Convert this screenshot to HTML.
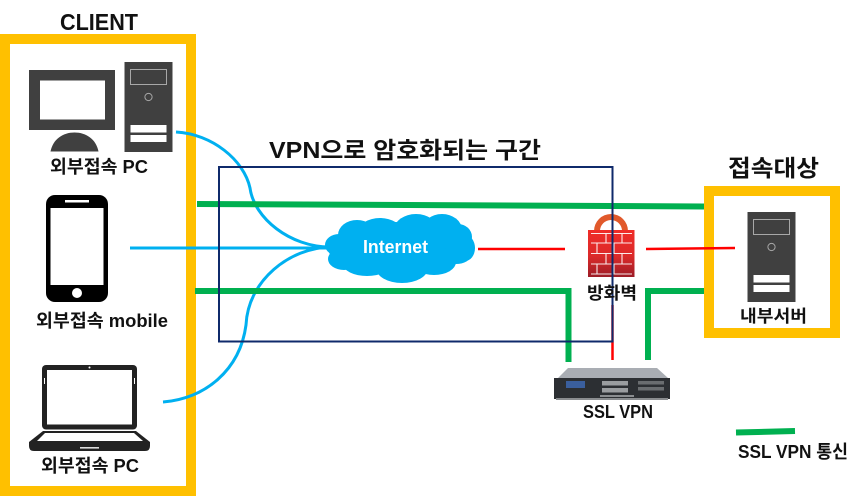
<!DOCTYPE html>
<html><head><meta charset="utf-8">
<style>
html,body{margin:0;padding:0;background:#fff;width:860px;height:496px;overflow:hidden}
svg{display:block}
text{font-family:"Liberation Sans","Noto Sans CJK KR",sans-serif;font-weight:700;fill:#111}
</style></head><body>
<svg width="860" height="496" viewBox="0 0 860 496" xmlns="http://www.w3.org/2000/svg">
<defs>
<g id="tower">
<rect x="0" y="0" width="48" height="90" fill="#404040"/>
<rect x="6" y="7.500" width="36" height="15" fill="none" stroke="#a8a8a8" stroke-width="1"/>
<circle cx="24" cy="35" r="3.600" fill="none" stroke="#a8a8a8" stroke-width="1"/>
<rect x="6" y="63" width="36" height="7.500" fill="#fff"/>
<rect x="6" y="73" width="36" height="7" fill="#fff"/>
</g>
<linearGradient id="brick" x1="0" y1="0" x2="0" y2="1">
<stop offset="0" stop-color="#f02c28"/>
<stop offset="0.550" stop-color="#dc2a2a"/>
<stop offset="1" stop-color="#9c1c26"/>
</linearGradient>
</defs>

<!-- frames -->
<rect x="5" y="39" width="186" height="452" fill="none" stroke="#ffc000" stroke-width="10"/>
<rect x="709" y="191" width="126" height="142" fill="none" stroke="#ffc000" stroke-width="10"/>

<!-- desktop -->
<rect x="29" y="70" width="86" height="60" fill="#404040"/>
<rect x="40" y="80.500" width="65" height="39" fill="#fff"/>
<path d="M50.500 151.500 C53 139 63 132.500 74.500 132.500 C86 132.500 96 139 98.500 151.500 Z" fill="#404040"/>
<use href="#tower" x="124.500" y="62"/>

<!-- phone -->
<rect x="46" y="195" width="62" height="107" rx="9" fill="#000"/>
<rect x="50.500" y="208" width="53" height="77" fill="#fff"/>
<rect x="65" y="200" width="24" height="2.500" fill="#fff"/>
<circle cx="77" cy="293" r="5" fill="#fff"/>

<!-- laptop -->
<rect x="42" y="365" width="95" height="64.500" rx="4" fill="#222"/>
<rect x="47" y="370" width="85" height="54.500" fill="#fff"/>
<circle cx="89.500" cy="367.500" r="1" fill="#fff"/>
<rect x="44" y="378" width="1" height="6" fill="#fff"/>
<rect x="134" y="378" width="1" height="6" fill="#fff"/>
<path d="M43 431 H136 L150 442 V446 Q150 451 145 451 H34 Q29 451 29 446 V442 Z" fill="#222"/>
<path d="M45 433 H134 L143 441 H37 Z" fill="#fff"/>
<rect x="80" y="447" width="19" height="1.600" fill="#ddd"/>

<!-- blue connectors -->
<g fill="none" stroke="#00b0f0" stroke-width="3">
<path d="M176 132 C212 134 244 160 250 188 C254 218 290 247 330 247"/>
<path d="M130 248 H330"/>
<path d="M163 402 C205 399 240 370 246 325 C248 280 290 248 330 247"/>
</g>

<!-- green lines -->
<g fill="none" stroke="#00b050" stroke-width="6">
<path d="M197 204 L704 206.500"/>
<path d="M195 291 H568.500 V362"/>
<path d="M704 291 H648 V360"/>
<path d="M736 432.500 L795 431"/>
</g>

<!-- red lines -->
<g fill="none" stroke="#ff0000" stroke-width="2.500">
<path d="M478 249 H565"/>
<path d="M646 249 L735 248"/>
<path d="M612.500 305 V360"/>
</g>

<!-- cloud -->
<g fill="#00b0f0">
<ellipse cx="398" cy="248" rx="70" ry="26"/>
<ellipse cx="357" cy="235" rx="19" ry="15"/>
<ellipse cx="380" cy="232" rx="22" ry="14"/>
<ellipse cx="416" cy="230" rx="22" ry="16"/>
<ellipse cx="442" cy="230" rx="20" ry="16"/>
<ellipse cx="458" cy="237" rx="14" ry="13"/>
<ellipse cx="465" cy="248" rx="10" ry="13"/>
<ellipse cx="339" cy="245" rx="14" ry="11"/>
<ellipse cx="344" cy="259" rx="16" ry="11"/>
<ellipse cx="367" cy="264" rx="24" ry="12"/>
<ellipse cx="402" cy="268" rx="26" ry="15"/>
<ellipse cx="434" cy="262" rx="22" ry="13"/>
<ellipse cx="456" cy="255" rx="15" ry="9"/>
</g>
<text x="363" y="253" font-size="18" textLength="65" lengthAdjust="spacingAndGlyphs" style="fill:#fff">Internet</text>

<!-- firewall -->
<path d="M594 231 A17 17 0 0 1 628 231 H622 A11 11 0 0 0 600 231 Z" fill="#e1592b"/>
<rect x="588" y="230" width="46.500" height="47" fill="url(#brick)"/>
<g stroke="#fff" stroke-width="1.100" fill="none" opacity="0.900">
<path d="M591 233.500 H632 M591 243 H632 M591 253.500 H632 M591 264 H632 M591 274 H632"/>
<path d="M606 233.500 V243 M622 233.500 V243 M597 243 V253.500 M614 243 V253.500 M606 253.500 V264 M622 253.500 V264 M597 264 V274 M614 264 V274"/>
</g>

<!-- server (target) -->
<use href="#tower" x="747.500" y="212"/>

<!-- SSL VPN appliance -->
<path d="M558 378 L568 368 H657 L668 378 Z" fill="#a9adb3"/>
<rect x="554" y="378" width="116" height="21" fill="#2c2f33"/>
<rect x="566" y="381" width="19" height="7" fill="#3a5f9e"/>
<rect x="602" y="381" width="26" height="4.500" fill="#9a9da0"/>
<rect x="602" y="388" width="26" height="4.500" fill="#9a9da0"/>
<rect x="638" y="381" width="26" height="3.500" fill="#6a6d70"/>
<rect x="638" y="387" width="26" height="3.500" fill="#6a6d70"/>
<rect x="600" y="395" width="34" height="2" fill="#8a8d90"/>
<rect x="556" y="398" width="112" height="2" fill="#8a8d90"/>

<!-- VPN zone -->
<rect x="219" y="167" width="393.500" height="174.500" fill="none" stroke="#0f2a6b" stroke-width="2"/>

<!-- labels -->
<text x="60" y="30" font-size="23" textLength="78" lengthAdjust="spacingAndGlyphs">CLIENT</text>
<text x="50" y="173" font-size="18" textLength="98" lengthAdjust="spacingAndGlyphs">외부접속 PC</text>
<text x="36" y="327" font-size="18" textLength="132" lengthAdjust="spacingAndGlyphs">외부접속 mobile</text>
<text x="41" y="472" font-size="18" textLength="98" lengthAdjust="spacingAndGlyphs">외부접속 PC</text>
<text x="269" y="158" font-size="23" textLength="272" lengthAdjust="spacingAndGlyphs">VPN으로 암호화되는 구간</text>
<text x="728" y="176" font-size="23" textLength="91" lengthAdjust="spacingAndGlyphs">접속대상</text>
<text x="740" y="322" font-size="17" textLength="67" lengthAdjust="spacingAndGlyphs">내부서버</text>
<text x="587" y="299" font-size="17" textLength="50" lengthAdjust="spacingAndGlyphs">방화벽</text>
<text x="583" y="418" font-size="18" textLength="70" lengthAdjust="spacingAndGlyphs">SSL VPN</text>
<text x="738" y="458" font-size="18" textLength="110" lengthAdjust="spacingAndGlyphs">SSL VPN 통신</text>
</svg>
</body></html>
